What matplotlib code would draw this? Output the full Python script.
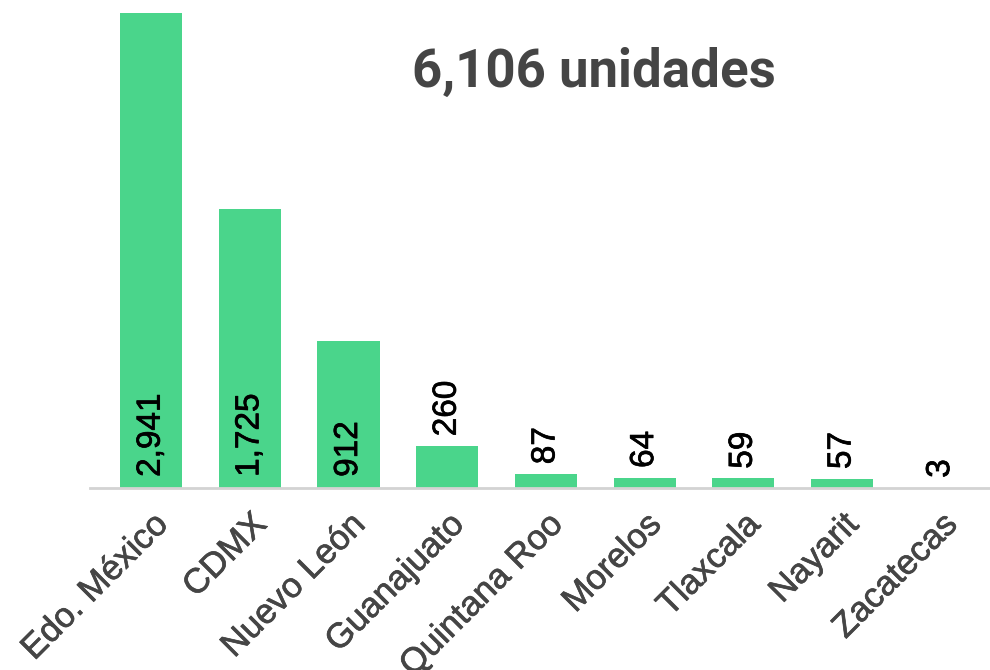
import matplotlib
matplotlib.use("Agg")
import matplotlib.pyplot as plt
import matplotlib.patheffects as pe

# datos
estados = ["Edo. México", "CDMX", "Nuevo León", "Guanajuato", "Quintana Roo",
           "Morelos", "Tlaxcala", "Nayarit", "Zacatecas"]
unidades = [2941, 1725, 912, 260, 87, 64, 59, 57, 3]
total_txt = "6,106 unidades"

verde = "#4ad58b"
gris = "#454545"

plt.rcParams["font.family"] = ["Liberation Sans", "DejaVu Sans"]

fig = plt.figure(figsize=(9.9, 6.7), dpi=100)
ax = fig.add_axes([90/990, 1-488/670, 900/990, (488-13)/670])

x = range(len(estados))
ax.bar(x, unidades, width=0.63, color=verde)
ax.set_xlim(-0.62, 8.50)
ax.set_ylim(0, max(unidades))

# etiquetas de valores (un poco mas gruesas)
grueso_negro = [pe.withStroke(linewidth=0.5, foreground="black")]
for i, v in enumerate(unidades):
    txt = "{:,}".format(v)
    if v > 500:
        ax.annotate(txt, (i, 0), xytext=(0, 8), textcoords="offset points",
                    rotation=90, ha="center", va="bottom", fontsize=24,
                    color="black", path_effects=grueso_negro)
    else:
        ax.annotate(txt, (i, v), xytext=(0, 7), textcoords="offset points",
                    rotation=90, ha="center", va="bottom", fontsize=24,
                    color="black", path_effects=grueso_negro)

ax.set_xticks(list(x))
etiquetas = ax.set_xticklabels(estados, rotation=45, ha="right", rotation_mode="anchor",
                               fontsize=25, color=gris)
for t in etiquetas:
    t.set_path_effects([pe.withStroke(linewidth=0.5, foreground=gris)])
ax.tick_params(axis="x", length=0, pad=14)
ax.set_yticks([])
for s in ["top", "right", "left"]:
    ax.spines[s].set_visible(False)
ax.spines["bottom"].set_color("#d3d3d3")
ax.spines["bottom"].set_linewidth(2)

fig.text(594/990, 1-72/670, total_txt, ha="center", va="center",
         fontsize=38, fontweight="bold", color=gris, family="Roboto")

fig.savefig("out.png", dpi=100)
